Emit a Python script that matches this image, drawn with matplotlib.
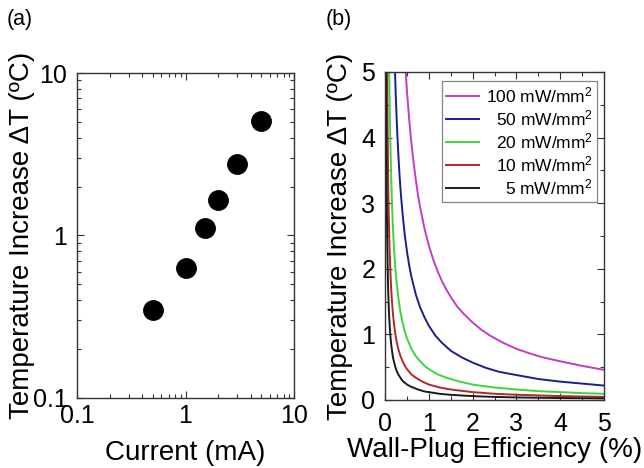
import matplotlib
matplotlib.use("Agg")
import matplotlib.pyplot as plt
from matplotlib.ticker import FixedLocator, NullFormatter, MultipleLocator

plt.rcParams['font.family'] = ['Liberation Sans', 'DejaVu Sans']
plt.rcParams['mathtext.fontset'] = 'custom'
plt.rcParams['mathtext.rm'] = 'Liberation Sans'
plt.rcParams['mathtext.it'] = 'Liberation Sans:italic'

# (a) measured temperature rise vs drive current
current_mA = [0.5, 1.0, 1.5, 2.0, 3.0, 5.0]
delta_T_a = [0.35, 0.63, 1.12, 1.66, 2.77, 5.08]

# (b) temperature rise vs wall-plug efficiency for several optical power densities
wpe_100 = [0.47, 0.5, 0.55, 0.6, 0.65, 0.7, 0.75, 0.8, 0.9, 1.0, 1.1, 1.2, 1.3, 1.4,
           1.5, 1.65, 1.8, 2.0, 2.2, 2.4, 2.7, 3.0, 3.3, 3.6, 4.0, 4.5, 5.0]
dT_100 = [5.0, 4.7, 4.27, 3.92, 3.62, 3.36, 3.13, 2.94, 2.61, 2.35, 2.14, 1.96, 1.81, 1.68,
          1.57, 1.42, 1.31, 1.18, 1.07, 0.98, 0.87, 0.78, 0.71, 0.65, 0.59, 0.52, 0.46]

wpe_50 = [0.22, 0.24, 0.26, 0.28, 0.3, 0.33, 0.36, 0.4, 0.45, 0.5, 0.55, 0.6, 0.7, 0.8,
          0.9, 1.0, 1.15, 1.3, 1.5, 1.75, 2.0, 2.3, 2.6, 3.0, 3.5, 4.0, 4.5, 5.0]
dT_50 = [5.15, 4.7, 4.35, 4.03, 3.77, 3.42, 3.14, 2.83, 2.51, 2.26, 2.05, 1.88, 1.61, 1.41,
         1.26, 1.13, 0.98, 0.87, 0.75, 0.65, 0.57, 0.49, 0.43, 0.38, 0.32, 0.28, 0.25, 0.22]

wpe_20 = [0.09, 0.1, 0.11, 0.12, 0.14, 0.16, 0.18, 0.2, 0.23, 0.26, 0.3, 0.35, 0.4, 0.45,
          0.5, 0.6, 0.7, 0.8, 0.9, 1.0, 1.2, 1.4, 1.7, 2.0, 2.5, 3.0, 3.5, 4.0, 4.5, 5.0]
dT_20 = [5.2, 4.7, 4.27, 3.92, 3.36, 2.94, 2.61, 2.35, 2.04, 1.81, 1.57, 1.34, 1.18, 1.04,
         0.94, 0.78, 0.67, 0.59, 0.52, 0.47, 0.39, 0.34, 0.28, 0.235, 0.19, 0.16, 0.135, 0.12,
         0.105, 0.095]

wpe_10 = [0.045, 0.05, 0.055, 0.06, 0.07, 0.08, 0.09, 0.1, 0.115, 0.13, 0.15, 0.175, 0.2,
          0.23, 0.26, 0.3, 0.35, 0.4, 0.45, 0.5, 0.6, 0.7, 0.85, 1.0, 1.25, 1.5, 2.0, 2.5,
          3.0, 4.0, 5.0]
dT_10 = [5.2, 4.7, 4.27, 3.92, 3.36, 2.94, 2.61, 2.35, 2.04, 1.81, 1.57, 1.34, 1.18,
         1.02, 0.9, 0.78, 0.67, 0.59, 0.52, 0.47, 0.39, 0.34, 0.28, 0.235, 0.19, 0.16, 0.12,
         0.095, 0.08, 0.06, 0.047]

wpe_5 = [0.022, 0.025, 0.028, 0.03, 0.035, 0.04, 0.045, 0.05, 0.06, 0.07, 0.08, 0.09, 0.1,
         0.12, 0.14, 0.16, 0.18, 0.2, 0.23, 0.26, 0.3, 0.35, 0.4, 0.5, 0.6, 0.75, 0.9, 1.0,
         1.25, 1.5, 2.0, 2.5, 3.0, 4.0, 5.0]
dT_5 = [5.35, 4.7, 4.2, 3.92, 3.36, 2.94, 2.61, 2.35, 1.96, 1.68, 1.47, 1.31, 1.18,
        0.98, 0.84, 0.74, 0.65, 0.59, 0.51, 0.45, 0.39, 0.34, 0.29, 0.235, 0.2, 0.16, 0.13,
        0.12, 0.094, 0.079, 0.059, 0.047, 0.039, 0.03, 0.024]

series_b = [
    (wpe_100, dT_100, '#c43cc4', '100 mW/mm$^2$'),
    (wpe_50, dT_50, '#1c1c96', '50 mW/mm$^2$'),
    (wpe_20, dT_20, '#3fd43f', '20 mW/mm$^2$'),
    (wpe_10, dT_10, '#b02828', '10 mW/mm$^2$'),
    (wpe_5, dT_5, '#1a1a1a', '5 mW/mm$^2$'),
]

spine_col = '#333333'
fig = plt.figure(figsize=(6.44, 4.68), dpi=100)
ax1 = fig.add_axes([0.1196, 0.1496, 0.337, 0.6944])
ax2 = fig.add_axes([0.598, 0.1453, 0.340, 0.7009])

for ax in (ax1, ax2):
    for s in ax.spines.values():
        s.set_color(spine_col)
        s.set_linewidth(1.0)
    ax.tick_params(which='both', direction='in', top=True, right=True,
                   color=spine_col, width=0.8, labelsize=18)
    ax.tick_params(which='major', length=5)
    ax.tick_params(which='minor', length=3)

# ---- panel (a)
ax1.plot(current_mA, delta_T_a, 'o', color='black', markersize=14, linestyle='none')
ax1.set_xscale('log')
ax1.set_yscale('log')
ax1.set_xlim(0.1, 10)
ax1.set_ylim(0.1, 10)
ax1.xaxis.set_major_locator(FixedLocator([0.1, 1, 10]))
ax1.yaxis.set_major_locator(FixedLocator([0.1, 1, 10]))
ax1.set_xticklabels(['0.1', '1', '10'])
ax1.set_yticklabels(['0.1', '1', '10'])
ax1.xaxis.set_minor_formatter(NullFormatter())
ax1.yaxis.set_minor_formatter(NullFormatter())
ax1.tick_params(axis='x', pad=4)
ax1.tick_params(axis='y', pad=7)
ax1.set_xlabel('Current (mA)', fontsize=20)
ax1.set_ylabel('Temperature Increase ΔT (ºC)', fontsize=20)
ax1.xaxis.set_label_coords(0.5, -0.128)
ax1.yaxis.set_label_coords(-0.195, 0.5)

# ---- panel (b)
for x, y, c, lab in series_b:
    ax2.plot(x, y, color=c, linewidth=1.4, label=lab)
ax2.set_xlim(0, 5)
ax2.set_ylim(0, 5)
ax2.xaxis.set_major_locator(MultipleLocator(1))
ax2.yaxis.set_major_locator(MultipleLocator(1))
ax2.xaxis.set_minor_locator(MultipleLocator(0.5))
ax2.yaxis.set_minor_locator(MultipleLocator(0.5))
ax2.tick_params(axis='x', pad=9)
ax2.tick_params(axis='y', pad=7)
ax2.set_xlabel('Wall-Plug Efficiency (%)', fontsize=20)
ax2.set_ylabel('Temperature Increase ΔT (ºC)', fontsize=20)
ax2.xaxis.set_label_coords(0.5, -0.112)
ax2.yaxis.set_label_coords(-0.145, 0.5)

leg = ax2.legend(loc='upper right', bbox_to_anchor=(0.968, 0.972), borderaxespad=0,
                 fontsize=12.5, frameon=True, fancybox=False, handlelength=1.9,
                 handletextpad=0.4, labelspacing=0.18, borderpad=0.25)
leg.get_frame().set_edgecolor('#666666')
leg.get_frame().set_linewidth(0.9)

# right-align the legend labels
fig.canvas.draw()
widths = [t.get_window_extent().width for t in leg.get_texts()]
wmax = max(widths)
for t, w in zip(leg.get_texts(), widths):
    t.set_x(wmax - w)

fig.text(7 / 644, 1 - 20 / 468, '(a)', fontsize=15.5, va='center', ha='left')
fig.text(326 / 644, 1 - 20 / 468, '(b)', fontsize=15.5, va='center', ha='left')

fig.savefig('out.png', dpi=100)
